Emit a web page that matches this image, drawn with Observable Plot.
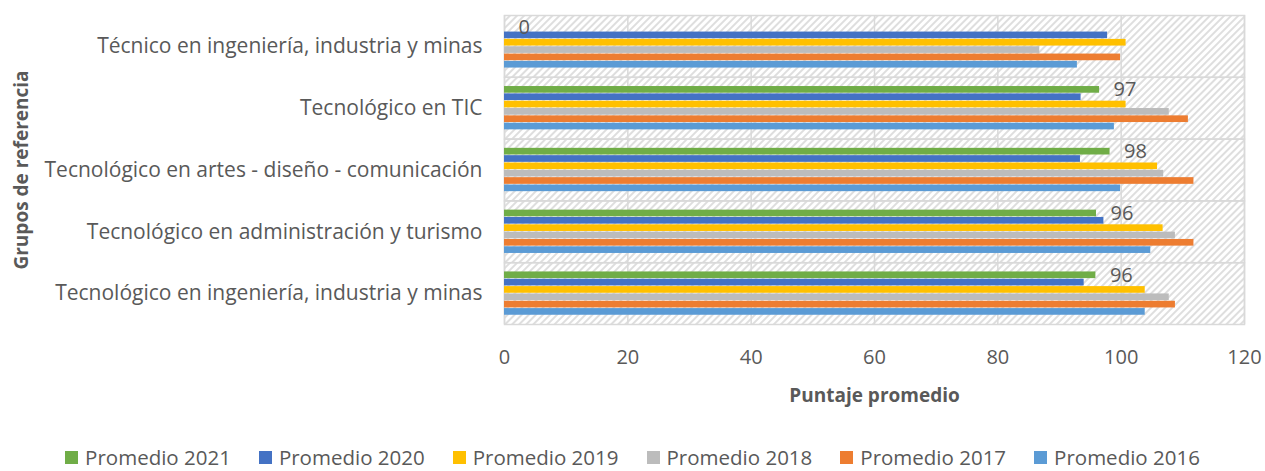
<!DOCTYPE html>
<html>
<head>
<meta charset="utf-8">
<script src="https://cdn.jsdelivr.net/npm/d3@7"></script>
<script src="https://cdn.jsdelivr.net/npm/@observablehq/plot@0.6"></script>
<style>
  html, body { margin: 0; padding: 0; background: #fff; }
  #chart { width: 1265px; font-family: 'Open Sans', sans-serif; }
  #legend { display: flex; justify-content: center; gap: 28px; padding-top: 5px; height: 28px; line-height: 28px; font-size: 20.5px; color: #595959; }
  .item { display: flex; align-items: center; white-space: nowrap; }
  .sw { width: 13px; height: 13px; margin-right: 7px; display: inline-block; }
</style>
</head>
<body>
<div id="chart"></div>
<script>
const categories = [
  "Técnico en ingeniería, industria y minas",
  "Tecnológico en TIC",
  "Tecnológico en artes - diseño - comunicación",
  "Tecnológico en administración y turismo",
  "Tecnológico en ingeniería, industria y minas"
];
const series = ["Promedio 2021", "Promedio 2020", "Promedio 2019", "Promedio 2018", "Promedio 2017", "Promedio 2016"];
const colors = ["#70AD47", "#4472C4", "#FFC000", "#BCBCBC", "#ED7D31", "#5B9BD5"];
const v2021 = [0, 96.5, 98.2, 96.0, 95.9];
const v2020 = [97.8, 93.5, 93.4, 97.2, 94.0];
const v2019 = [100.8, 100.8, 105.9, 106.8, 103.9];
const v2018 = [86.8, 107.8, 106.9, 108.8, 107.8];
const v2017 = [99.9, 110.9, 111.8, 111.8, 108.8];
const v2016 = [92.9, 98.9, 99.9, 104.8, 103.9];
const labels2021 = ["0", "97", "98", "96", "96"];
const xTicks = [0, 20, 40, 60, 80, 100, 120];
const xTitle = "Puntaje promedio";
const yTitle = "Grupos de referencia";

const valueSets = [v2021, v2020, v2019, v2018, v2017, v2016];
const rows = [];
categories.forEach((c, i) => series.forEach((s, j) => rows.push({category: c, series: s, value: valueSets[j][i]})));
const labelRows = categories.map((c, i) => ({category: c, series: series[0], value: v2021[i], label: labels2021[i]}));

const svg = Plot.plot({
  width: 1265,
  height: 438,
  marginTop: 15,
  marginBottom: 114,
  marginLeft: 504,
  marginRight: 21,
  style: {fontFamily: "'Open Sans', sans-serif", color: "#595959", background: "white", overflow: "visible"},
  x: {domain: [0, 120]},
  y: {domain: series, paddingInner: 0.09, paddingOuter: 1.26, round: false, axis: null},
  fy: {domain: categories, padding: 0, round: false},
  color: {domain: series, range: colors},
  marks: [
    Plot.frame({fill: "url(#hatch)"}),
    Plot.gridX(xTicks, {stroke: "#D9D9D9", strokeOpacity: 1, strokeWidth: 1.5}),
    Plot.frame({stroke: "#D9D9D9", strokeWidth: 1.5}),
    Plot.barX(rows, {x: "value", y: "series", fy: "category", fill: "series"}),
    Plot.text(labelRows, {x: "value", y: "series", fy: "category", text: "label", textAnchor: "start", dx: 14, fontSize: 20, fill: "#595959"}),
    Plot.axisX({ticks: xTicks, tickSize: 0, tickPadding: 25, fontSize: 20, label: null}),
    Plot.axisX({ticks: [], tickSize: 0, label: xTitle, labelAnchor: "center", labelArrow: "none", labelOffset: 77, fontSize: 19, fontWeight: "bold"}),
    Plot.axisFy({anchor: "left", tickSize: 0, tickPadding: 22, fontSize: 21, label: null}),
    Plot.axisFy({anchor: "left", ticks: [], tickSize: 0, label: yTitle, labelAnchor: "center", labelArrow: "none", labelOffset: 490, fontSize: 19, fontWeight: "bold"})
  ]
});

d3.select(svg).insert("defs", ":first-child").html(
  '<pattern id="hatch" width="5" height="5" patternUnits="userSpaceOnUse" patternTransform="rotate(45)">' +
  '<rect width="5" height="5" fill="#ffffff"></rect>' +
  '<rect width="2" height="5" fill="#DEDEDE"></rect></pattern>'
);

const chart = document.getElementById("chart");
chart.appendChild(svg);

const legend = document.createElement("div");
legend.id = "legend";
series.forEach((s, j) => {
  const item = document.createElement("div");
  item.className = "item";
  const sw = document.createElement("span");
  sw.className = "sw";
  sw.style.background = colors[j];
  item.appendChild(sw);
  item.appendChild(document.createTextNode(s));
  legend.appendChild(item);
});
chart.appendChild(legend);
</script>
</body>
</html>
